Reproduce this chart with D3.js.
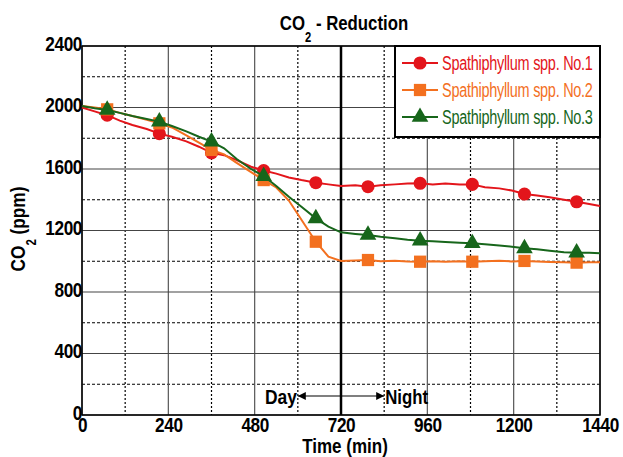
<!DOCTYPE html>
<html>
<head>
<meta charset="utf-8">
<script src="https://cdn.jsdelivr.net/npm/d3@7"></script>
<style>
  body { margin: 0; background: #fff; }
  svg { display: block; }
  text { font-family: "Liberation Sans", Arial, sans-serif; }
</style>
</head>
<body>
<svg id="chart" width="623" height="457"></svg>
<script>
// time points (min)
const times = [0, 35, 70, 105, 140, 180, 215, 250, 290, 325, 360, 395, 430, 470, 505, 540, 575, 610, 650, 685,
  720, 760, 795, 830, 870, 905, 940, 975, 1010, 1050, 1085, 1120, 1160, 1195, 1230, 1265, 1300, 1340, 1375, 1410, 1440];

// CO2 (ppm) for each plant
const no1 = [2000, 1975, 1950, 1915, 1886, 1860, 1830, 1810, 1780, 1745, 1705, 1690, 1658, 1615, 1590, 1570, 1545, 1528, 1511, 1500,
  1490, 1495, 1485, 1495, 1500, 1505, 1507, 1500, 1505, 1500, 1500, 1482, 1474, 1460, 1437, 1428, 1416, 1400, 1387, 1372, 1360];
const no2 = [2010, 2000, 1988, 1965, 1945, 1920, 1897, 1870, 1818, 1772, 1724, 1695, 1640, 1580, 1528, 1480, 1395, 1270, 1127, 1030,
  1002, 1005, 1008, 1000, 1003, 998, 997, 1000, 996, 1000, 997, 1000, 1003, 999, 1002, 998, 995, 993, 991, 994, 993];
const no3 = [2010, 1995, 1984, 1965, 1945, 1925, 1908, 1880, 1845, 1810, 1778, 1735, 1665, 1600, 1554, 1490, 1420, 1355, 1279, 1225,
  1188, 1178, 1171, 1160, 1150, 1140, 1134, 1130, 1125, 1120, 1117, 1110, 1103, 1095, 1084, 1078, 1068, 1058, 1056, 1055, 1052];

// times where markers are drawn
const markerTimes = [70, 215, 360, 505, 650, 795, 940, 1085, 1230, 1375];

const seriesNames = ['Spathiphyllum spp. No.1', 'Spathiphyllum spp. No.2', 'Spathiphyllum spp. No.3'];
const seriesColors = ['#e3151b', '#f3701f', '#17661b'];
const xTicks = [0, 240, 480, 720, 960, 1200, 1440];
const yTicks = [0, 400, 800, 1200, 1600, 2000, 2400];
const xMinor = [120, 360, 600, 840, 1080, 1320];
const yMinor = [200, 600, 1000, 1400, 1800, 2200];

const svg = d3.select('#chart');
const pLeft = 82, pRight = 600, pTop = 46, pBottom = 415;

const x = d3.scaleLinear().domain([0, 1440]).range([pLeft, pRight]);
const y = d3.scaleLinear().domain([0, 2400]).range([pBottom, pTop]);

// condensed text: the original uses a narrow face, so squeeze horizontally
function narrowText(parent, tx, ty, k, transformExtra) {
  return parent.append('g')
    .attr('transform', `translate(${tx},${ty})${transformExtra || ''} scale(${k},1)`)
    .append('text');
}

// grid
const grid = svg.append('g');
grid.selectAll('.vmin').data(xMinor).join('line')
  .attr('x1', d => x(d)).attr('x2', d => x(d)).attr('y1', pTop).attr('y2', pBottom)
  .attr('stroke', '#000').attr('stroke-width', 1.2).attr('stroke-dasharray', '2,2');
grid.selectAll('.hmin').data(yMinor).join('line')
  .attr('x1', pLeft).attr('x2', pRight).attr('y1', d => y(d)).attr('y2', d => y(d))
  .attr('stroke', '#000').attr('stroke-width', 1).attr('stroke-dasharray', '3,2');
grid.selectAll('.vmaj').data(xTicks).join('line')
  .attr('x1', d => x(d)).attr('x2', d => x(d)).attr('y1', pTop).attr('y2', pBottom)
  .attr('stroke', '#555').attr('stroke-width', 1.2);
grid.selectAll('.hmaj').data(yTicks).join('line')
  .attr('x1', pLeft).attr('x2', pRight).attr('y1', d => y(d)).attr('y2', d => y(d))
  .attr('stroke', '#444').attr('stroke-width', 1.2);

// day / night divider
svg.append('line')
  .attr('x1', x(720)).attr('x2', x(720)).attr('y1', pTop).attr('y2', pBottom)
  .attr('stroke', '#000').attr('stroke-width', 2.5);

// plot border
svg.append('rect')
  .attr('x', pLeft).attr('y', pTop).attr('width', pRight - pLeft).attr('height', pBottom - pTop)
  .attr('fill', 'none').attr('stroke', '#000').attr('stroke-width', 1.5);

// axes (labels only)
const xAxis = svg.append('g').attr('transform', `translate(0,${pBottom})`)
  .call(d3.axisBottom(x).tickValues(xTicks).tickSize(0).tickPadding(2).tickFormat(d3.format('d')));
const yAxis = svg.append('g').attr('transform', `translate(${pLeft},0)`)
  .call(d3.axisLeft(y).tickValues(yTicks).tickSize(0).tickPadding(0).tickFormat(d3.format('d')));
[xAxis, yAxis].forEach(a => {
  a.select('.domain').remove();
  a.selectAll('text').attr('font-size', 21).attr('font-weight', 'bold').attr('fill', '#000')
    .attr('letter-spacing', '-0.5px')
    .attr('transform', 'scale(0.82,1)')
    .style('font-family', '"Liberation Sans", Arial, sans-serif');
});
yAxis.selectAll('text').attr('dy', '0.2em');

// series lines and markers
const symbols = [d3.symbolCircle, d3.symbolSquare, d3.symbolTriangle];
const symbolSizes = [135, 150, 120];
const seriesData = [no1, no2, no3];
const line = d3.line().x(d => x(d[0])).y(d => y(d[1]));

seriesData.forEach((vals, i) => {
  const pts = times.map((t, j) => [t, vals[j]]);
  svg.append('path').datum(pts)
    .attr('d', line).attr('fill', 'none')
    .attr('stroke', seriesColors[i]).attr('stroke-width', 2);
  const marks = pts.filter(p => markerTimes.includes(p[0]));
  svg.selectAll(null).data(marks).join('path')
    .attr('transform', d => `translate(${x(d[0])},${y(d[1])})`)
    .attr('d', d3.symbol().type(symbols[i]).size(symbolSizes[i]))
    .attr('fill', seriesColors[i]);
});

// legend
const lg = svg.append('g');
lg.append('rect').attr('x', 395).attr('y', pTop).attr('width', pRight - 395).attr('height', 91)
  .attr('fill', '#fff').attr('stroke', '#000').attr('stroke-width', 2);
seriesNames.forEach((name, i) => {
  const ly = 63 + i * 27;
  lg.append('line').attr('x1', 402).attr('x2', 438).attr('y1', ly).attr('y2', ly)
    .attr('stroke', seriesColors[i]).attr('stroke-width', 2);
  lg.append('path').attr('transform', `translate(420,${ly})`)
    .attr('d', d3.symbol().type(symbols[i]).size(symbolSizes[i])).attr('fill', seriesColors[i]);
  narrowText(lg, 442, ly + 7, 0.69)
    .attr('font-size', 21).attr('letter-spacing', '-0.4px')
    .attr('fill', seriesColors[i]).text(name);
});

// title
const title = narrowText(svg, 344, 30, 0.8)
  .attr('text-anchor', 'middle').attr('font-size', 21).attr('font-weight', 'bold');
title.append('tspan').text('CO');
title.append('tspan').attr('font-size', 14).attr('dy', 12).text('2');
title.append('tspan').attr('dy', -12).text(' - Reduction');

// y label
const ylab = narrowText(svg, 25, 229, 0.82, ' rotate(-90)')
  .attr('text-anchor', 'middle').attr('font-size', 21).attr('font-weight', 'bold');
ylab.append('tspan').text('CO');
ylab.append('tspan').attr('font-size', 14).attr('dy', 11).text('2');
ylab.append('tspan').attr('dy', -11).text(' (ppm)');

// x label
narrowText(svg, x(720) + 4, 453, 0.81)
  .attr('text-anchor', 'middle').attr('font-size', 21).attr('font-weight', 'bold')
  .text('Time (min)');

// day / night arrow
const defs = svg.append('defs');
defs.append('marker').attr('id', 'ah').attr('viewBox', '0 0 10 10').attr('refX', 10).attr('refY', 5)
  .attr('markerWidth', 10).attr('markerHeight', 8).attr('markerUnits', 'userSpaceOnUse')
  .attr('orient', 'auto-start-reverse')
  .append('path').attr('d', 'M0,0L10,5L0,10Z').attr('fill', '#000');
svg.append('line').attr('x1', x(600)).attr('x2', x(840)).attr('y1', 396).attr('y2', 396)
  .attr('stroke', '#000').attr('stroke-width', 1.2)
  .attr('marker-start', 'url(#ah)').attr('marker-end', 'url(#ah)');
narrowText(svg, x(600) - 1, 404, 0.83)
  .attr('text-anchor', 'end').attr('font-size', 21).attr('font-weight', 'bold').text('Day');
narrowText(svg, x(840) + 1, 404, 0.8)
  .attr('font-size', 21).attr('font-weight', 'bold').text('Night');
</script>
</body>
</html>
